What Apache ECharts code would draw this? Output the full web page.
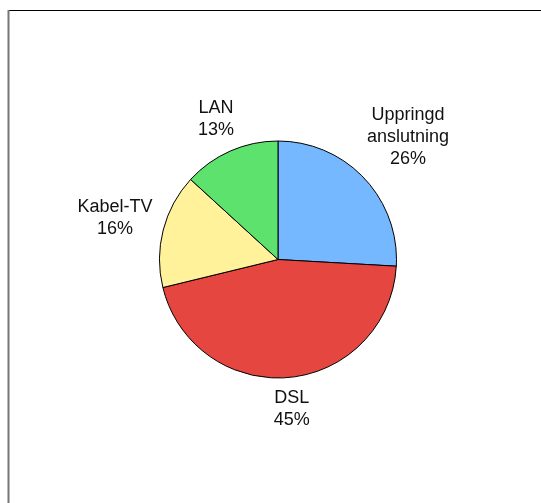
<!DOCTYPE html>
<html>
<head>
<meta charset="utf-8">
<script src="https://cdn.jsdelivr.net/npm/echarts@6/dist/echarts.min.js"></script>
<style>
  html, body { margin: 0; padding: 0; background: #fff; }
  #chart { width: 541px; height: 503px; }
</style>
</head>
<body>
<div id="chart"></div>
<script>
// data
var categories = ['Uppringd\nanslutning', 'DSL', 'Kabel-TV', 'LAN'];
var shares = [25.9, 45.3, 15.6, 13.2];
var colors = ['#75B8FF', '#E5463F', '#FFF29B', '#5DE26E'];

var center = [278, 259.5];
var radius = 118.5;
var labelGap = 8;

var total = shares.reduce(function (a, b) { return a + b; }, 0);

// place each label centred outside its slice, along the slice's mid angle
function placeLabel(params) {
  var i = params.dataIndex;
  var before = 0;
  for (var k = 0; k < i; k++) before += shares[k];
  var mid = (before + shares[i] / 2) / total * Math.PI * 2;
  var dx = Math.sin(mid), dy = -Math.cos(mid);
  var w = params.labelRect.width, h = params.labelRect.height;
  var ext = Math.abs(dx) * w / 2 + Math.abs(dy) * h / 2;
  var d = radius + labelGap + ext;
  return {
    x: center[0] + dx * d,
    y: center[1] + dy * d,
    align: 'center',
    verticalAlign: 'middle'
  };
}

var chart = echarts.init(document.getElementById('chart'));
var option = {
  animation: false,
  backgroundColor: '#fff',
  graphic: [
    { type: 'line', shape: { x1: 9, y1: 10.5, x2: 541, y2: 10.5 }, style: { stroke: '#000', lineWidth: 1 } },
    { type: 'line', shape: { x1: 8.5, y1: 10, x2: 8.5, y2: 503 }, style: { stroke: '#777', lineWidth: 2 } }
  ],
  series: [
    {
      type: 'pie',
      center: center,
      radius: radius,
      startAngle: 90,
      clockwise: true,
      silent: true,
      itemStyle: { borderColor: '#000', borderWidth: 1 },
      label: {
        show: true,
        position: 'outside',
        fontFamily: 'Liberation Sans, Arial, sans-serif',
        fontSize: 18,
        lineHeight: 22,
        color: '#111',
        formatter: function (p) {
          return p.name + '\n' + Math.round(p.value / total * 100) + '%';
        }
      },
      labelLine: { show: false },
      labelLayout: placeLabel,
      data: categories.map(function (c, i) {
        return { name: c, value: shares[i], itemStyle: { color: colors[i] } };
      })
    }
  ]
};
chart.setOption(option);
</script>
</body>
</html>
